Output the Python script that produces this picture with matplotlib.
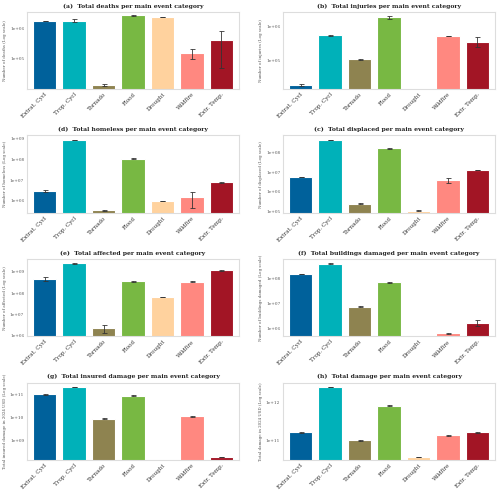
import numpy as np
import matplotlib
matplotlib.use("Agg")
import matplotlib.pyplot as plt
from matplotlib.ticker import LogLocator, FuncFormatter, NullLocator

categories = ["Extrat. Cycl", "Trop. Cycl", "Tornado", "Flood", "Drought", "Wildfire", "Extr. Temp."]
colors = ["#00619b", "#00b1b9", "#8e8350", "#78b843", "#ffd29e", "#ff8880", "#a21525"]
nan = np.nan

# values (log scale)
deaths = [1.7e6, 1.7e6, 1.35e4, 2.6e6, 2.3e6, 1.5e5, 4.0e5]
deaths_lo = [1.66e6, 1.55e6, 1.25e4, 2.55e6, 2.27e6, 1.0e5, 5.0e4]
deaths_hi = [1.74e6, 2.0e6, 1.5e4, 2.65e6, 2.33e6, 2.1e5, 7.9e5]

injuries = [1.8e4, 5.3e5, 1.05e5, 1.8e6, nan, 5.1e5, 3.5e5]
injuries_lo = [1.7e4, 5.2e5, 1.03e5, 1.6e6, nan, 5.0e5, 2.5e5]
injuries_hi = [2.0e4, 5.4e5, 1.07e5, 2.0e6, nan, 5.2e5, 4.6e5]

homeless = [3.0e6, 8.4e8, 3.7e5, 1.05e8, 1.0e6, 1.5e6, 7.7e6]
homeless_lo = [2.8e6, 8.2e8, 3.5e5, 1.02e8, 0.96e6, 4.6e5, 7.5e6]
homeless_hi = [3.2e6, 8.6e8, 3.9e5, 1.08e8, 1.04e6, 2.8e6, 7.9e6]

displaced = [5.7e6, 4.6e8, 2.5e5, 1.7e8, 1.1e5, 3.9e6, 1.3e7]
displaced_lo = [5.5e6, 4.5e8, 2.4e5, 1.65e8, 1.08e5, 2.8e6, 1.27e7]
displaced_hi = [5.9e6, 4.7e8, 2.6e5, 1.75e8, 1.12e5, 4.9e6, 1.33e7]

affected = [4.7e8, 2.5e9, 2.3e6, 3.6e8, 6.7e7, 3.5e8, 1.2e9]
affected_lo = [3.8e8, 2.3e9, 1.3e6, 3.5e8, 6.6e7, 3.4e8, 1.15e9]
affected_hi = [5.8e8, 2.7e9, 3.3e6, 3.7e8, 6.8e7, 3.6e8, 1.25e9]

buildings = [1.5e8, 3.9e8, 7.6e6, 7.1e7, nan, 6.7e5, 1.7e6]
buildings_lo = [1.46e8, 3.8e8, 7.4e6, 6.9e7, nan, 6.4e5, 1.3e6]
buildings_hi = [1.54e8, 4.0e8, 7.8e6, 7.3e7, nan, 7.0e5, 2.2e6]

insured = [1.0e11, 2.1e11, 8.8e9, 9.0e10, nan, 1.1e10, 1.9e8]
insured_lo = [0.97e11, 2.05e11, 8.5e9, 8.7e10, nan, 1.07e10, 1.85e8]
insured_hi = [1.03e11, 2.15e11, 9.1e9, 9.3e10, nan, 1.13e10, 1.95e8]

damage = [1.7e11, 2.6e12, 1.05e11, 8.5e11, 3.8e10, 1.4e11, 1.7e11]
damage_lo = [1.67e11, 2.55e12, 1.02e11, 8.3e11, 3.7e10, 1.37e11, 1.67e11]
damage_hi = [1.73e11, 2.65e12, 1.08e11, 8.7e11, 3.9e10, 1.43e11, 1.73e11]

panels = [
    ("(a)  Total deaths per main event category", "Number of deaths (Log scale)",
     deaths, deaths_lo, deaths_hi, (1.02e4, 3.4e6)),
    ("(b)  Total injuries per main event category", "Number of injuries (Log scale)",
     injuries, injuries_lo, injuries_hi, (1.4e4, 2.6e6)),
    ("(d)  Total homeless per main event category", "Number of homeless (Log scale)",
     homeless, homeless_lo, homeless_hi, (2.75e5, 1.35e9)),
    ("(c)  Total displaced per main event category", "Number of displaced (Log scale)",
     displaced, displaced_lo, displaced_hi, (8.5e4, 7.8e8)),
    ("(e)  Total affected per main event category", "Number of affected (Log scale)",
     affected, affected_lo, affected_hi, (9.3e5, 4.0e9)),
    ("(f)  Total buildings damaged per main event category", "Number of buildings damaged (Log scale)",
     buildings, buildings_lo, buildings_hi, (5.1e5, 5.9e8)),
    ("(g)  Total insured damage per main event category", "Total insured damage in 2024 USD (Log scale)",
     insured, insured_lo, insured_hi, (1.4e8, 3.3e11)),
    ("(h)  Total damage per main event category", "Total damage in 2024 USD (Log scale)",
     damage, damage_lo, damage_hi, (3.2e10, 3.4e12)),
]

plt.rcParams['font.family'] = ['DejaVu Serif']

fig, axes = plt.subplots(4, 2, figsize=(5, 4.95), dpi=100)
fig.subplots_adjust(left=0.054, right=0.99, top=0.976, bottom=0.071, wspace=0.208, hspace=0.6)

x = np.arange(len(categories))
for ax, (title, ylabel, vals, lo, hi, lims) in zip(axes.flat, panels):
    vals = np.array(vals, dtype=float)
    yerr = [vals - np.array(lo, dtype=float), np.array(hi, dtype=float) - vals]
    ax.bar(x, vals, width=0.8, color=colors, edgecolor="white", linewidth=0.8, zorder=2)
    ax.errorbar(x, vals, yerr=yerr, fmt="none", ecolor="#333333", elinewidth=0.7,
                capsize=1.8, capthick=0.7, alpha=0.85, zorder=3)
    ax.set_yscale("log")
    ax.set_ylim(*lims)
    ax.set_xlim(-0.6, 6.6)
    ax.yaxis.set_major_locator(LogLocator(base=10, subs=(1.0,)))
    ax.yaxis.set_major_formatter(FuncFormatter(lambda v, p: f"{v:.0e}"))
    ax.yaxis.set_minor_locator(NullLocator())
    ax.set_xticks(x)
    ax.set_xticklabels(categories, rotation=45, ha="right", rotation_mode="anchor")
    ax.tick_params(axis="x", labelsize=4.1, colors="#333333", length=0, pad=2)
    ax.tick_params(axis="y", labelsize=3.1, colors="#555555", length=0, pad=2)
    ax.set_ylabel(ylabel, fontsize=2.9, color="#555555", labelpad=2)
    ax.set_title(title, fontsize=4.4, fontweight="bold", color="#222222", pad=3)
    for s in ax.spines.values():
        s.set_color("#dddddd")
        s.set_linewidth(0.8)

fig.savefig("out.png", dpi=100)
